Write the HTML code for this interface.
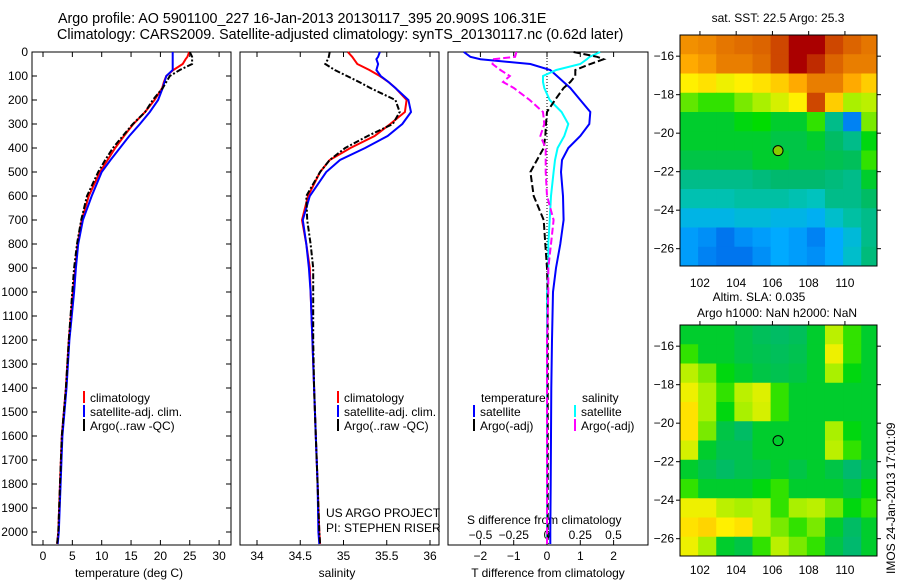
<!DOCTYPE html>
<html><head><meta charset="utf-8"><style>
body{margin:0;background:#fff;}
svg{display:block;font-family:"Liberation Sans",sans-serif;}
text{font-size:12px;fill:#000;}
</style></head><body>
<svg id="fig" width="900" height="580" viewBox="0 0 900 580">
<text x="58" y="23" style="font-size:14.3px">Argo profile: AO 5901100_227 16-Jan-2013 20130117_395 20.909S 106.31E</text>
<text x="57" y="39" style="font-size:14.3px">Climatology: CARS2009. Satellite-adjusted climatology: synTS_20130117.nc (0.62d later)</text>
<g id="g"></g>
</svg>
<script>
// ---- data ----
const depths = [0,20,30,50,75,100,125,150,200,250,300,350,400,450,500,600,700,800,900,1000,1200,1400,1600,1800,2000,2050];
const tClim = [24.9,24.6,24.3,23.8,22.2,21.0,20.6,20.3,19.0,17.4,15.4,13.8,12.3,11.0,9.7,7.8,6.6,5.9,5.5,5.1,4.4,3.9,3.2,2.9,2.6,2.4];
const tSat  = [22.1,22.1,22.1,22.1,22.1,21.0,20.7,20.4,19.6,18.2,16.5,14.7,13.1,11.5,10.0,8.3,6.8,6.0,5.6,5.3,4.5,4.0,3.3,3.0,2.7,2.5];
const tArgo = [25.0,25.4,25.4,25.4,23.3,21.6,21.0,20.4,18.7,17.4,15.3,13.6,11.9,10.6,9.4,7.5,6.5,5.8,5.3,5.0,4.4,3.9,3.2,2.9,2.6,2.4];
const sClim = [35.05,35.1,35.12,35.16,35.3,35.42,35.52,35.6,35.73,35.71,35.54,35.36,35.08,34.84,34.73,34.59,34.52,34.57,34.61,34.62,34.64,34.66,34.68,34.7,34.72,34.73];
const sSat  = [35.42,35.4,35.38,35.4,35.38,35.43,35.52,35.6,35.75,35.78,35.68,35.51,35.25,34.96,34.8,34.61,34.53,34.57,34.6,34.62,34.64,34.66,34.68,34.7,34.71,34.72];
const sArgo = [34.84,34.83,34.82,34.79,34.9,35.04,35.18,35.31,35.6,35.65,35.57,35.28,35.02,34.84,34.73,34.57,34.58,34.62,34.65,34.65,34.65,34.66,34.68,34.7,34.72,34.73];
const dtSat  = [-2.5,-2.3,-2.0,-0.5,0.1,0.3,0.5,0.7,1.0,1.3,1.27,1.0,0.64,0.45,0.42,0.48,0.5,0.4,0.27,0.18,0.15,0.13,0.12,0.11,0.1,0.1];
const dtArgo = [0.8,1.5,1.7,1.3,0.85,0.85,0.7,0.5,0.24,0.0,-0.03,-0.05,-0.1,-0.3,-0.5,-0.4,-0.1,-0.05,0.0,0.02,0.02,0.02,0.02,0.02,0.02,0.02];
const dsSat  = [0.4,0.32,0.3,0.25,0.07,-0.03,-0.03,-0.02,0.02,0.11,0.16,0.13,0.08,0.06,0.05,0.03,0.02,0.01,0.01,0.0,0.0,0.0,0.0,0.0,0.0,0.0];
const dsArgo = [-0.23,-0.24,-0.4,-0.41,-0.35,-0.28,-0.33,-0.25,-0.13,-0.03,-0.02,-0.05,-0.01,-0.01,-0.01,0.0,0.05,0.03,0.01,0.01,0.0,0.0,0.0,0.0,0.0,0.0];
const depthTicks = [0,100,200,300,400,500,600,700,800,900,1000,1100,1200,1300,1400,1500,1600,1700,1800,1900,2000];
const tTicks = [0,5,10,15,20,25,30];
const sTicks = ["34","34.5","35","35.5","36"];
const dTTicks = [-2,-1,0,1,2];
const dSTicks = ["-0.5","-0.25","0","0.25","0.5"];
const lonTicks = [102,104,106,108,110];
const latTicks = [-16,-18,-20,-22,-24,-26];
const argoLon = 106.31, argoLat = -20.909;
const sstGrid = [
[0.83,0.84,0.86,0.87,0.88,0.9,0.95,0.95,0.9,0.88,0.86],
[0.8,0.82,0.85,0.85,0.87,0.9,0.95,0.92,0.88,0.85,0.85],
[0.7,0.72,0.68,0.7,0.72,0.75,0.8,0.85,0.85,0.8,0.75],
[0.57,0.55,0.55,0.58,0.6,0.65,0.7,0.9,0.75,0.6,0.62],
[0.5,0.5,0.5,0.52,0.53,0.5,0.5,0.55,0.42,0.3,0.58],
[0.5,0.5,0.5,0.5,0.5,0.48,0.48,0.5,0.45,0.42,0.52],
[0.48,0.48,0.48,0.48,0.5,0.5,0.48,0.48,0.47,0.46,0.55],
[0.42,0.42,0.42,0.42,0.43,0.44,0.44,0.44,0.43,0.42,0.5],
[0.39,0.39,0.39,0.4,0.4,0.4,0.39,0.38,0.42,0.42,0.45],
[0.35,0.35,0.35,0.36,0.36,0.35,0.35,0.34,0.37,0.4,0.42],
[0.32,0.31,0.29,0.31,0.32,0.33,0.32,0.3,0.33,0.36,0.42],
[0.32,0.3,0.29,0.29,0.31,0.33,0.32,0.31,0.33,0.37,0.43]];
const slaGrid = [
[0.5,0.5,0.5,0.48,0.46,0.45,0.46,0.5,0.62,0.55,0.5],
[0.55,0.5,0.5,0.48,0.47,0.46,0.47,0.5,0.68,0.55,0.5],
[0.62,0.58,0.52,0.5,0.48,0.47,0.48,0.5,0.6,0.52,0.5],
[0.68,0.6,0.55,0.62,0.66,0.55,0.5,0.5,0.5,0.5,0.5],
[0.72,0.6,0.52,0.6,0.65,0.55,0.5,0.5,0.5,0.5,0.5],
[0.72,0.58,0.48,0.45,0.5,0.5,0.5,0.5,0.6,0.52,0.5],
[0.65,0.5,0.47,0.47,0.5,0.5,0.5,0.5,0.62,0.55,0.5],
[0.5,0.47,0.45,0.47,0.48,0.5,0.48,0.5,0.48,0.44,0.48],
[0.55,0.5,0.5,0.5,0.52,0.55,0.5,0.5,0.5,0.48,0.52],
[0.68,0.68,0.62,0.6,0.62,0.55,0.6,0.62,0.58,0.52,0.55],
[0.72,0.74,0.7,0.72,0.62,0.58,0.55,0.58,0.5,0.45,0.5],
[0.68,0.6,0.5,0.48,0.55,0.62,0.58,0.55,0.48,0.44,0.5]];

// ---- helpers ----
const NS="http://www.w3.org/2000/svg";
const G=document.getElementById('g');
function mk(tag,attrs,parent){const e=document.createElementNS(NS,tag);for(const k in attrs)e.setAttribute(k,attrs[k]);(parent||G).appendChild(e);return e;}
function txt(x,y,s,anchor,parent){const t=mk('text',{x:x,y:y,'text-anchor':anchor||'start'},parent);t.textContent=s;return t;}
const Y0=52, PXD=0.24;
const yD=d=>Y0+d*PXD;
const xT=v=>43+5.87*v;
const xS=v=>257+86.5*(v-34);
const xDT=v=>547+33.3*v;
const xDS=v=>547+133*v;
const TOPY=52,BOTY=545;

function frame(x0,x1,name){
  const r=mk('rect',{x:x0,y:TOPY,width:x1-x0,height:BOTY-TOPY,fill:'none',stroke:'#000','stroke-width':1});
  
  
}
function line(xs,f,col,w,dash,name){
  let d='';xs.forEach((v,i)=>{d+=(i?'L':'M')+f(v).toFixed(1)+','+yD(depths[i]).toFixed(1);});
  const p=mk('path',{d:d,fill:'none',stroke:col,'stroke-width':w,'stroke-dasharray':dash||'none'});
  
  
}
function xticks(vals,f,labY){
  vals.forEach(v=>{const x=f(parseFloat(v));
    mk('line',{x1:x,x2:x,y1:BOTY,y2:BOTY-5,stroke:'#000'});
    mk('line',{x1:x,x2:x,y1:TOPY,y2:TOPY+5,stroke:'#000'});
    const t=txt(x,labY,String(v),'middle');
    
    
  });
}

// ---- panel 1 temperature ----
frame(32,231,'temperature-panel');
depthTicks.forEach(d=>{const y=yD(d);
  mk('line',{x1:32,x2:37,y1:y,y2:y,stroke:'#000'});
  mk('line',{x1:226,x2:231,y1:y,y2:y,stroke:'#000'});
  const t=txt(28,y+4,String(d),'end');
  
  
});
xticks(tTicks,xT,560);
txt(129,577,'temperature (deg C)','middle');
line(tClim,xT,'#f00',2,null,'temperature-climatology-line');
line(tSat,xT,'#00f',2,null,'temperature-satellite-line');
line(tArgo,xT,'#000',2,'6,2,2,2','temperature-argo-line');

// ---- panel 2 salinity ----
frame(240,439,'salinity-panel');
xticks(sTicks,xS,560);
txt(337,577,'salinity','middle');
line(sClim,xS,'#f00',2,null,'salinity-climatology-line');
line(sSat,xS,'#00f',2,null,'salinity-satellite-line');
line(sArgo,xS,'#000',2,'6,2,2,2','salinity-argo-line');

function legend(x,y,col,label,name){
  mk('rect',{x:x,y:y-11,width:2,height:12,fill:col});
  const t=txt(x+7,y,label);
  
  
}
legend(83,402,'#f00','climatology','legend-climatology');
legend(83,416,'#00f','satellite-adj. clim.','legend-satellite-adj');
legend(83,430,'#000','Argo(..raw -QC)','legend-argo');
legend(337,402,'#f00','climatology','legend-climatology-2');
legend(337,416,'#00f','satellite-adj. clim.','legend-satellite-adj-2');
legend(337,430,'#000','Argo(..raw -QC)','legend-argo-2');
txt(326,517,'US ARGO PROJECT');
txt(326,532,'PI: STEPHEN RISER');

// ---- panel 3 differences ----
frame(448,648,'difference-panel');
mk('line',{x1:xDT(0),x2:xDT(0),y1:TOPY,y2:BOTY,stroke:'#000','stroke-dasharray':'1,2'});
dTTicks.forEach(v=>{const x=xDT(v);
  mk('line',{x1:x,x2:x,y1:BOTY,y2:BOTY-5,stroke:'#000'});
  mk('line',{x1:x,x2:x,y1:TOPY,y2:TOPY+5,stroke:'#000'});
  const t=txt(x,560,String(v).replace('-','\u2212'),'middle');
  
  
});
dSTicks.forEach(v=>{const t=txt(xDS(parseFloat(v)),539,v.replace('-','\u2212'),'middle');
  
  
});
txt(467,524,'S difference from climatology');
txt(548,577,'T difference from climatology','middle');
line(dtSat,xDT,'#00f',2,null,'t-diff-satellite-line');
line(dsSat,xDS,'#0ff',2,null,'s-diff-satellite-line');
line(dtArgo,xDT,'#000',2,'7,3','t-diff-argo-line');
line(dsArgo,xDS,'#f0f',2,'7,3','s-diff-argo-line');
txt(481,402,'temperature');
txt(582,402,'salinity');
legend(473,416,'#00f','satellite','legend-t-satellite');
legend(473,430,'#000','Argo(-adj)','legend-t-argo');
legend(574,416,'#0ff','satellite','legend-s-satellite');
legend(574,430,'#f0f','Argo(-adj)','legend-s-argo');

// ---- maps ----
const cmapStops=[[0.2,[0,0,150]],[0.27,[0,90,230]],[0.33,[0,170,255]],[0.38,[0,195,190]],[0.44,[0,185,110]],[0.49,[0,200,60]],[0.53,[0,220,0]],[0.6,[170,240,0]],[0.7,[255,240,0]],[0.8,[255,170,0]],[0.88,[220,100,0]],[0.95,[170,0,0]]];
function cmap(v){
  if(v<=cmapStops[0][0])return 'rgb('+cmapStops[0][1]+')';
  for(let i=1;i<cmapStops.length;i++){if(v<=cmapStops[i][0]){const a=cmapStops[i-1],b=cmapStops[i],t=(v-a[0])/(b[0]-a[0]);
    return 'rgb('+a[1].map((c,k)=>Math.round(c+(b[1][k]-c)*t)).join(',')+')';}}
  return 'rgb('+cmapStops[cmapStops.length-1][1]+')';
}
function map(y0,grid,name,labY){
  const X0=680,X1=877,Y1=y0+231;
  const lonL=100.9,lonR=111.77,latT=-14.9,latB=-26.9;
  const xL=l=>X0+(l-lonL)/(lonR-lonL)*(X1-X0);
  const yL=l=>y0+(latT-l)/(latT-latB)*(Y1-y0);
  const g=mk('g',{});
  
  
  grid.forEach((row,r)=>row.forEach((v,c)=>{
    const la=-15-r, lo=101+c;
    const xa=Math.max(X0,xL(lo-0.1)), xb=Math.min(X1,xL(lo+0.9)), ya=Math.max(y0,yL(la+0.1)), yb=Math.min(Y1,yL(la-0.9));
    const cell=mk('rect',{x:xa,y:ya,width:xb-xa+0.5,height:yb-ya+0.5,fill:cmap(v)},g);
    
    
  }));
  mk('rect',{x:X0,y:y0,width:X1-X0,height:Y1-y0,fill:'none',stroke:'#000'});
  lonTicks.forEach(l=>{const x=xL(l);
    mk('line',{x1:x,x2:x,y1:y0,y2:y0-4,stroke:'#000'});
    const t=txt(x,labY,String(l),'middle');
    
    
  });
  latTicks.forEach(l=>{const y=yL(l);
    mk('line',{x1:X0,x2:X0-4,y1:y,y2:y,stroke:'#000'});
    mk('line',{x1:X1,x2:X1+4,y1:y,y2:y,stroke:'#000'});
    const t=txt(674,y+4,String(l).replace('-','\u2212'),'end');
    
    
  });
  const m=mk('circle',{cx:xL(argoLon),cy:yL(argoLat),r:5,fill:grid===sstGrid?'#8c0':'none',stroke:'#000'});
  
  
}
map(35,sstGrid,'sst-map',287);
map(325,slaGrid,'sla-map',574);
txt(778,22,'sat. SST: 22.5 Argo: 25.3','middle');
txt(759,301,'Altim. SLA: 0.035','middle');
txt(777,317,'Argo h1000: NaN h2000: NaN','middle');
const ts=txt(0,0,'IMOS 24-Jan-2013 17:01:09');
ts.setAttribute('transform','translate(895,574) rotate(-90)');


</script>
</body></html>
